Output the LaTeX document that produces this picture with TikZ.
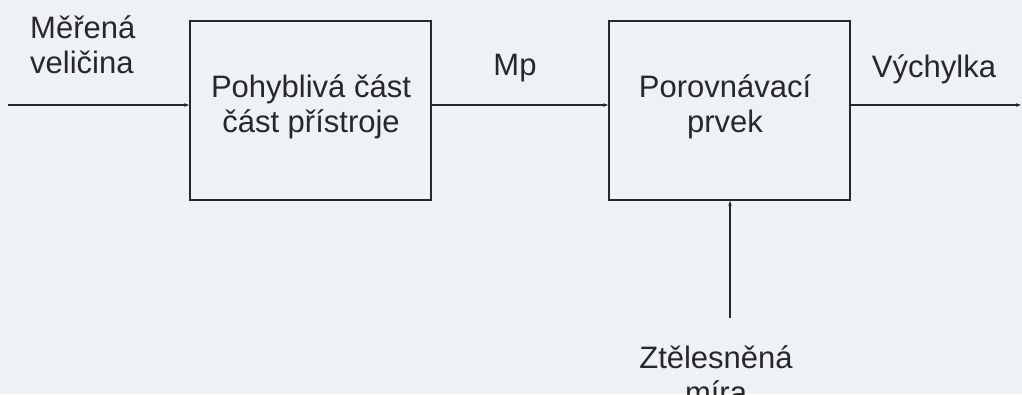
\documentclass[tikz,border=0pt]{standalone}
\usepackage{fontspec}
\setmainfont{Liberation Sans}
\usetikzlibrary{arrows.meta}
\definecolor{paper}{RGB}{238,241,245}
\definecolor{ink}{RGB}{40,40,40}
\begin{document}
\begin{tikzpicture}[x=1pt,y=-1pt,
  block/.style={draw=ink,line width=1.6pt,minimum width=241pt,minimum height=179pt,
    align=center,text=ink,inner sep=0pt},
  lbl/.style={text=ink,align=center,font=\fontsize{31}{35}\selectfont,inner sep=0pt},
  flow/.style={draw=ink,line width=1.3pt,-{Stealth[length=5pt,width=3.5pt]}}]
  \fill[paper] (0,0) rectangle (1022,394);
  \useasboundingbox (0,0) rectangle (1022,394);
  % blocks
  \node[block] (pohyb) at (310.5,110.5) {};
  \node[block] (porov) at (729.5,110.5) {};
  % block captions (anchored at the baseline of their last line)
  \node[lbl,anchor=base] (pohybtxt) at (311,132) {Pohyblivá část\\část přístroje};
  \node[lbl,anchor=base] (porovtxt) at (725,132) {Porovnávací\\prvek};
  % signal ends
  \coordinate (in) at (8,105);
  \coordinate (out) at (1021,105);
  \coordinate (ref) at (730,318);
  % labels
  \node[lbl,align=left,anchor=base west] (mer) at (30,73) {Měřená\\veličina};
  \node[lbl,anchor=base] (mp) at (515,75) {Mp};
  \node[lbl,anchor=base] (vych) at (934,77) {Výchylka};
  \node[lbl,anchor=base] (ztel) at (716,403) {Ztělesněná\\míra};
  % connectors
  \draw[flow] (in) -- (pohyb.west |- in);
  \draw[flow] (pohyb.east |- in) -- (porov.west |- in);
  \draw[flow] (porov.east |- out) -- (out);
  \draw[flow] (ref) -- (ref |- porov.south);
\end{tikzpicture}
\end{document}
